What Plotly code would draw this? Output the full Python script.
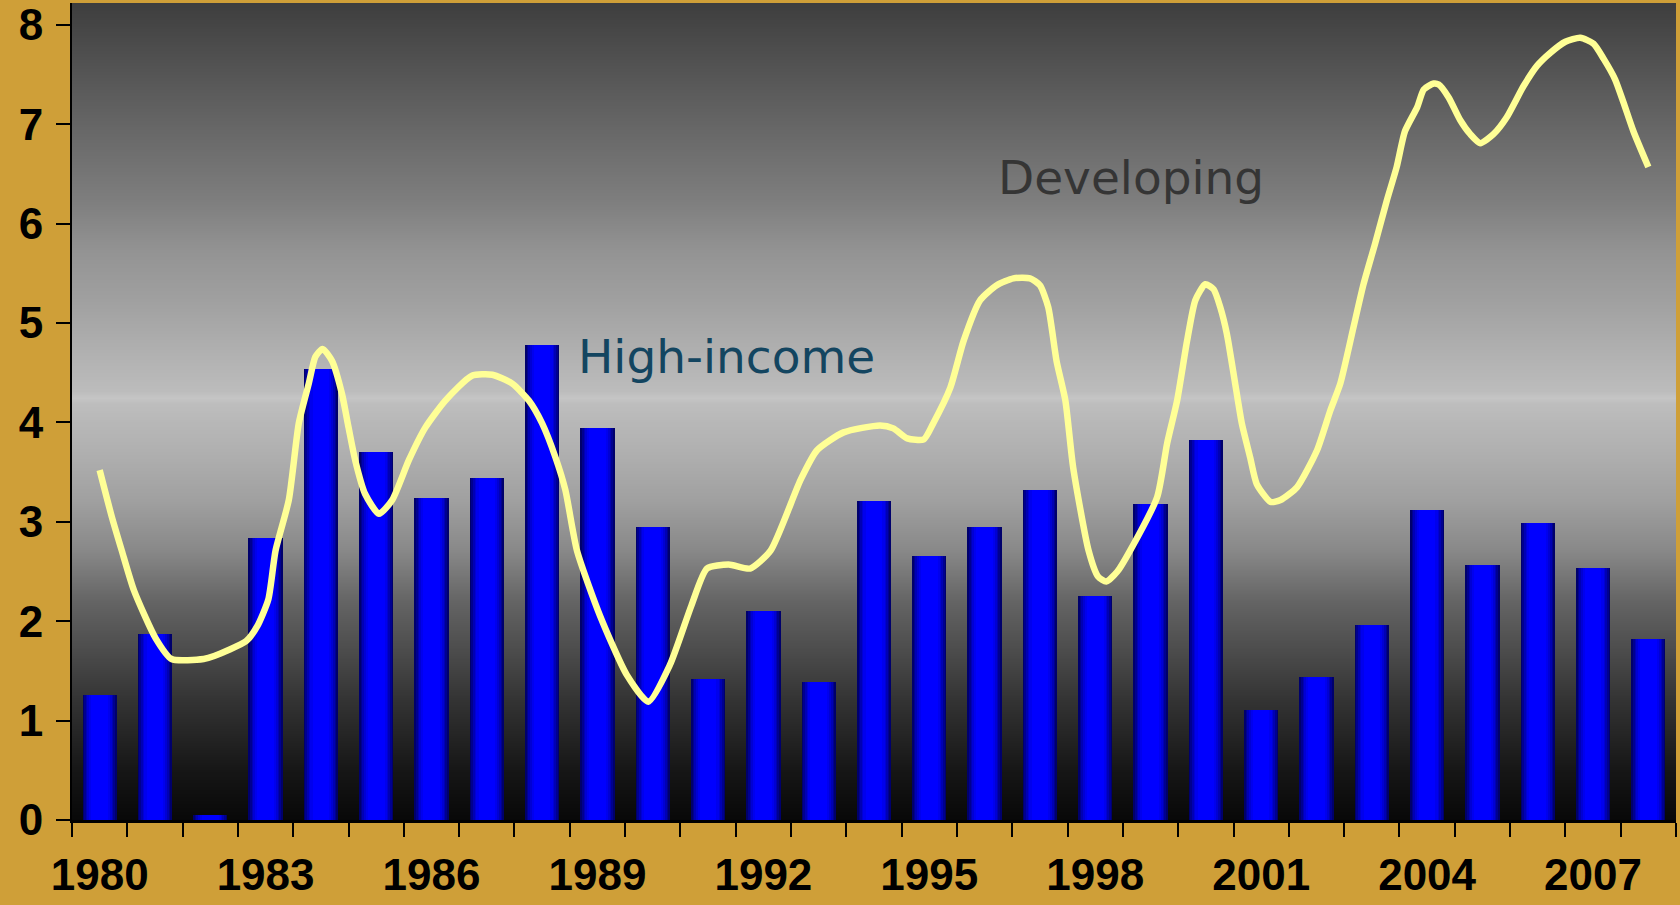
import numpy as np
import plotly.graph_objects as go

# ---------------- data ----------------
years = list(range(1980, 2009))
high_income = [1.26, 1.87, 0.05, 2.84, 4.54, 3.70, 3.24, 3.44, 4.78, 3.94,
               2.95, 1.42, 2.10, 1.39, 3.21, 2.66, 2.95, 3.32, 2.25, 3.18,
               3.82, 1.11, 1.44, 1.96, 3.12, 2.57, 2.99, 2.54, 1.82]

dev_x = [1980.00, 1980.22, 1980.40, 1980.62, 1981.01, 1981.30, 1981.88, 1982.07,
         1982.65, 1982.85, 1983.05, 1983.18, 1983.42, 1983.60, 1983.78, 1983.90,
         1984.03, 1984.20, 1984.38, 1984.50, 1984.62, 1984.80, 1985.05, 1985.29,
         1985.59, 1985.89, 1986.25, 1986.73, 1987.10, 1987.46, 1987.76, 1988.00,
         1988.24, 1988.42, 1988.63, 1989.05, 1989.53, 1989.92, 1990.31, 1990.70,
         1990.98, 1991.37, 1991.76, 1992.13, 1992.67, 1992.97, 1993.45, 1994.11,
         1994.35, 1994.60, 1994.90, 1995.07, 1995.38, 1995.62, 1995.92, 1996.22,
         1996.52, 1996.82, 1997.00, 1997.15, 1997.30, 1997.46, 1997.60, 1997.88,
         1998.05, 1998.20, 1998.40, 1998.63, 1999.12, 1999.30, 1999.48, 1999.66,
         1999.81, 1999.99, 2000.14, 2000.26, 2000.38, 2000.53, 2000.65, 2000.80,
         2000.92, 2001.17, 2001.35, 2001.65, 2002.01, 2002.25, 2002.43, 2002.67,
         2002.85, 2003.06, 2003.27, 2003.45, 2003.60, 2003.82, 2003.94, 2004.12,
         2004.21, 2004.39, 2004.60, 2004.78, 2004.96, 2005.20, 2005.44, 2005.75,
         2005.99, 2006.23, 2006.50, 2006.77, 2007.01, 2007.19, 2007.40, 2007.55,
         2007.73, 2008.00]
dev_y = [3.52, 3.05, 2.71, 2.31, 1.83, 1.62, 1.62, 1.65,
         1.80, 1.95, 2.22, 2.71, 3.22, 3.99, 4.39, 4.66,
         4.74, 4.62, 4.29, 3.95, 3.62, 3.28, 3.08, 3.22,
         3.62, 3.95, 4.22, 4.47, 4.48, 4.39, 4.22, 3.99,
         3.65, 3.32, 2.71, 2.05, 1.46, 1.19, 1.56, 2.16,
         2.53, 2.57, 2.53, 2.71, 3.42, 3.72, 3.90, 3.97,
         3.94, 3.84, 3.83, 3.99, 4.35, 4.82, 5.23, 5.38,
         5.45, 5.45, 5.38, 5.16, 4.62, 4.22, 3.55, 2.71,
         2.45, 2.40, 2.50, 2.71, 3.25, 3.79, 4.22, 4.82,
         5.23, 5.39, 5.34, 5.16, 4.89, 4.39, 3.99, 3.65,
         3.38, 3.20, 3.22, 3.35, 3.72, 4.12, 4.39, 4.96,
         5.39, 5.80, 6.23, 6.57, 6.93, 7.17, 7.35, 7.41,
         7.40, 7.27, 7.04, 6.90, 6.81, 6.90, 7.07, 7.39,
         7.59, 7.72, 7.83, 7.87, 7.81, 7.66, 7.45, 7.22,
         6.93, 6.57]

tick_years = [1980, 1983, 1986, 1989, 1992, 1995, 1998, 2001, 2004, 2007]
tick_labels = [str(y) for y in tick_years]
y_ticks = list(range(0, 9))

# ---------------- styling ----------------
Y_MAX = 8.22
X_LO, X_HI = 1979.5, 2008.5
GOLD = "#cf9f38"
BOLD = dict(family="Arial, Liberation Sans, sans-serif", size=44, color="black", weight="bold")

# background gradient stops (value on y axis, gray level)
bg_stops = [(0.0, 8), (0.5, 22), (1.2, 51), (2.2, 100), (2.71, 136), (3.22, 160),
            (3.72, 176), (4.02, 184), (4.2, 190), (4.25, 197), (4.32, 188),
            (4.72, 176), (5.23, 160), (5.73, 147), (6.23, 126), (7.24, 94), (8.22, 62)]
colorscale = [[v / Y_MAX, f"rgb({g},{g},{g})"] for v, g in bg_stops]
ygrid = np.linspace(0, Y_MAX, 240)

fig = go.Figure()
fig.add_trace(go.Heatmap(
    x=[X_LO, X_HI], y=ygrid, z=[[v, v] for v in ygrid],
    colorscale=colorscale, zmin=0, zmax=Y_MAX, zsmooth="best",
    showscale=False, hoverinfo="skip"))

# cylinder-like bars: stacked layers of decreasing width
bar_layers = [(0.62, "#00006c"), (0.56, "#000090"), (0.50, "#0000b4"),
              (0.44, "#0000d4"), (0.38, "#0000ee"), (0.30, "#0000ff")]
for w, c in bar_layers:
    fig.add_trace(go.Bar(x=years, y=high_income, width=w, marker=dict(color=c, line_width=0),
                         showlegend=False, hoverinfo="skip"))

fig.add_trace(go.Scatter(x=dev_x, y=dev_y, mode="lines",
                         line=dict(color="#ffff96", width=6.5, shape="spline", smoothing=0.6),
                         showlegend=False))

fig.add_annotation(x=1988.62, y=4.66, xref="x", yref="y", text="High-income",
                   showarrow=False, xanchor="left", yanchor="middle",
                   font=dict(family="DejaVu Sans", size=47, color="#134560"))
fig.add_annotation(x=1996.21, y=6.46, xref="x", yref="y", text="Developing",
                   showarrow=False, xanchor="left", yanchor="middle",
                   font=dict(family="DejaVu Sans", size=47, color="#353535"))

fig.update_layout(
    width=1680, height=905,
    margin=dict(l=72, r=4, t=3, b=85, autoexpand=False),
    paper_bgcolor=GOLD, plot_bgcolor="#808080",
    barmode="overlay", bargap=0, showlegend=False,
)
fig.update_xaxes(
    range=[X_LO, X_HI], tickmode="array", tickvals=tick_years, ticktext=tick_labels,
    ticks="", tickfont=BOLD, ticklabelstandoff=14, automargin=False,
    showline=True, linecolor="black", linewidth=3, showgrid=False, zeroline=False,
    minor=dict(tickmode="linear", tick0=X_LO, dtick=1, ticks="outside",
               ticklen=14, tickwidth=2, tickcolor="black", showgrid=False),
)
fig.update_yaxes(
    range=[0, Y_MAX], tickmode="array", tickvals=y_ticks,
    ticks="outside", ticklen=14, tickwidth=2, tickcolor="black",
    tickfont=BOLD, ticklabelstandoff=4, automargin=False,
    showline=True, linecolor="black", linewidth=2, showgrid=False, zeroline=False,
)

fig.write_html(
    "out.html",
    config={"displayModeBar": False},
    post_script="document.body.style.margin='0';document.body.style.overflow='hidden';",
)
